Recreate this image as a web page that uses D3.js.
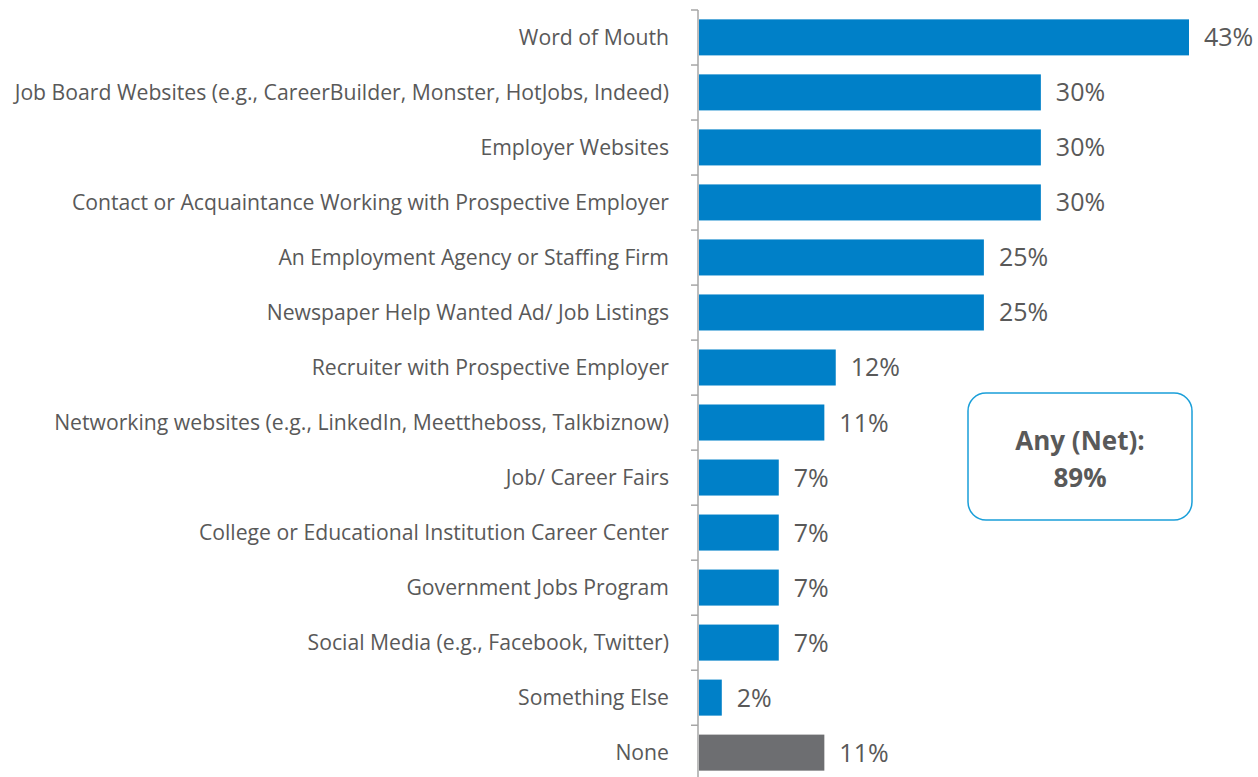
<!DOCTYPE html>
<html>
<head>
<meta charset="utf-8">
<script src="https://cdn.jsdelivr.net/npm/d3@7"></script>
<style>
  html, body { margin: 0; padding: 0; background: #fff; }
  svg { display: block; font-family: "Open Sans", sans-serif; }
</style>
</head>
<body>
<svg id="chart" width="1258" height="777"></svg>
<script>
// Sources used to find a job (% of respondents)
const categories = [
  "Word of Mouth",
  "Job Board Websites (e.g., CareerBuilder, Monster, HotJobs, Indeed)",
  "Employer Websites",
  "Contact or Acquaintance Working with Prospective Employer",
  "An Employment Agency or Staffing Firm",
  "Newspaper Help Wanted Ad/ Job Listings",
  "Recruiter with Prospective Employer",
  "Networking websites (e.g., LinkedIn, Meettheboss, Talkbiznow)",
  "Job/ Career Fairs",
  "College or Educational Institution Career Center",
  "Government Jobs Program",
  "Social Media (e.g., Facebook, Twitter)",
  "Something Else",
  "None"
];
const values = [43, 30, 30, 30, 25, 25, 12, 11, 7, 7, 7, 7, 2, 11];
const netLabel = "Any (Net):";
const netValue = "89%";

const svg = d3.select("#chart");
const axisX = 698;

const x = d3.scaleLinear().domain([0, 43]).range([axisX + 1, 1189]);
const y = d3.scaleBand().domain(categories).range([10, 780]).paddingInner(0.345).paddingOuter(0.17);

// bars
svg.append("g").selectAll("rect")
  .data(categories)
  .join("rect")
  .attr("x", x(0))
  .attr("y", d => y(d))
  .attr("width", (d, i) => x(values[i]) - x(0))
  .attr("height", y.bandwidth())
  .attr("fill", d => d === "None" ? "#6D6E71" : "#0080C8");

// value labels
svg.append("g").selectAll("text")
  .data(categories)
  .join("text")
  .attr("x", (d, i) => x(values[i]) + 15)
  .attr("y", d => y(d) + y.bandwidth() / 2)
  .attr("dy", "0.36em")
  .attr("fill", "#595959")
  .attr("font-size", 25)
  .text((d, i) => values[i] + "%");

// category axis with outward ticks at row boundaries
const step = y.step();
const gAxis = svg.append("g");
gAxis.append("line")
  .attr("x1", axisX).attr("x2", axisX)
  .attr("y1", 10).attr("y2", 777)
  .attr("stroke", "#A6A6A6").attr("stroke-width", 1.5);
const boundaries = d3.range(categories.length).map(i => 10 + i * step);
gAxis.selectAll("line.tick")
  .data(boundaries)
  .join("line")
  .attr("class", "tick")
  .attr("x1", axisX - 7).attr("x2", axisX)
  .attr("y1", d => d).attr("y2", d => d)
  .attr("stroke", "#A6A6A6").attr("stroke-width", 1.5);

// category labels
gAxis.selectAll("text")
  .data(categories)
  .join("text")
  .attr("x", 669)
  .attr("y", d => y(d) + y.bandwidth() / 2)
  .attr("dy", "0.36em")
  .attr("text-anchor", "end")
  .attr("fill", "#595959")
  .attr("font-size", 21.2)
  .text(d => d);

// net callout box
const box = svg.append("g");
box.append("rect")
  .attr("x", 968).attr("y", 393)
  .attr("width", 224).attr("height", 127)
  .attr("rx", 18).attr("ry", 18)
  .attr("fill", "#fff")
  .attr("stroke", "#1A9FD9").attr("stroke-width", 1.5);
box.append("text")
  .attr("x", 1080).attr("y", 450)
  .attr("text-anchor", "middle")
  .attr("font-weight", "bold")
  .attr("font-size", 26)
  .attr("fill", "#595959")
  .text(netLabel);
box.append("text")
  .attr("x", 1080).attr("y", 487)
  .attr("text-anchor", "middle")
  .attr("font-weight", "bold")
  .attr("font-size", 26)
  .attr("fill", "#595959")
  .text(netValue);
</script>
</body>
</html>
